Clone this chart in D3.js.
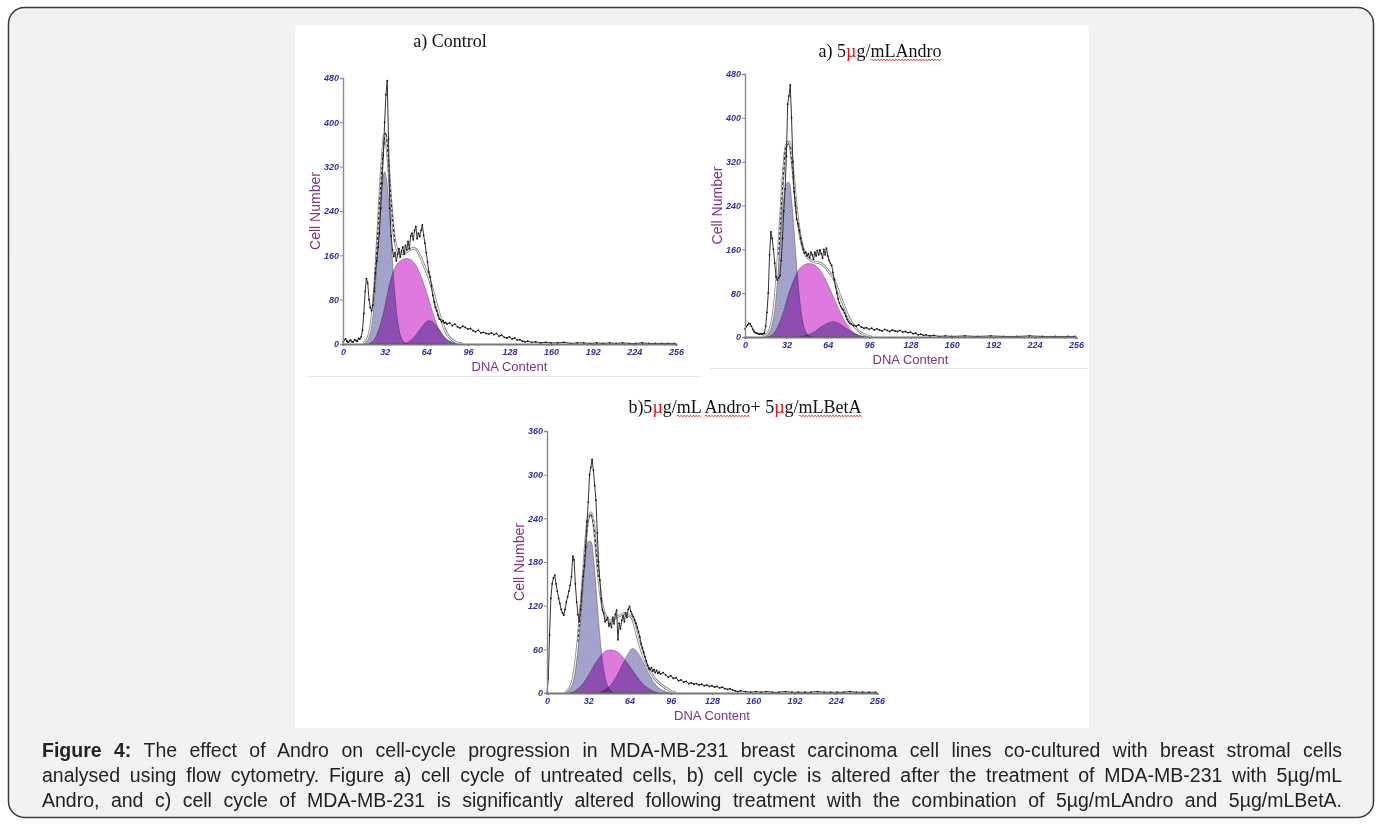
<!DOCTYPE html>
<html>
<head>
<meta charset="utf-8">
<script src="https://cdn.jsdelivr.net/npm/d3@7"></script>
<style>
  body { margin: 0; background: #fff; }
  svg { display: block; }
  .tick text { font-family: "Liberation Sans", Arial, sans-serif; font-size: 9px; font-weight: bold; font-style: italic; fill: #2f2fa8; }
</style>
</head>
<body>
<script>
// ---- data: [channel, count] ----
const yTicksA = [0, 80, 160, 240, 320, 400, 480];
const yTicksC = [0, 60, 120, 180, 240, 300, 360];
const xTicks = [0, 32, 64, 96, 128, 160, 192, 224, 256];

const titles = ["a) Control", "a) 5µg/mLAndro", "b)5µg/mL Andro+ 5µg/mLBetA"];

// a) Control
const ctrlRaw = [[0,4],[1,7],[2,9],[3,5],[4,3],[5,6],[6,7],[7,4],[8,4],[9,8],[10,6],[11,5],[12,10],[13,9],[14,13],[15,25],[16,55],[17,95],[18,118],[19,110],[20,80],[21,66],[22,60],[23,70],[24,95],[25,128],[26,150],[27,175],[28,200],[29,245],[30,290],[31,340],[32,400],[33,450],[34,475],[35,370],[36,245],[37,195],[38,170],[39,158],[40,165],[41,150],[42,162],[43,172],[44,157],[45,168],[46,175],[47,162],[48,178],[49,170],[50,185],[51,172],[52,195],[53,200],[54,188],[55,205],[56,212],[57,190],[58,200],[59,194],[60,205],[61,215],[62,196],[63,182],[64,165],[65,148],[66,130],[67,121],[68,105],[69,88],[70,76],[71,66],[72,60],[73,52],[74,45],[75,44],[76,40],[77,42],[78,38],[79,39],[80,36],[82,38],[84,33],[86,36],[88,31],[90,29],[92,32],[94,30],[96,27],[98,28],[100,24],[102,22],[104,25],[106,20],[108,21],[110,19],[112,18],[114,20],[116,17],[118,19],[120,14],[122,16],[124,12],[126,11],[128,13],[130,9],[132,11],[134,7],[136,8],[138,5],[140,4],[142,5],[145,3],[148,4],[152,2],[156,3],[160,2],[165,2],[170,3],[175,1],[180,2],[185,2],[190,1],[195,2],[200,1],[205,2],[210,1],[215,2],[220,1],[225,1],[230,2],[235,1],[240,1],[245,1],[250,1],[255,1]];
const ctrlModel = [[16,2],[18,6],[20,17],[22,44],[24,94],[26,170],[28,256],[30,330],[32,378],[34,350],[36,285],[38,225],[40,185],[42,168],[44,163],[46,163],[48,165],[50,168],[52,171],[54,173],[56,171],[58,165],[60,155],[62,143],[64,132],[66,120],[68,105],[70,88],[72,70],[74,54],[76,40],[78,28],[80,18],[84,7],[88,2],[92,0]];
const ctrlDash = [[24,98],[26,172],[28,252],[30,322],[32,372],[33,382],[34,360],[36,290],[38,228],[40,180]];
const ctrlG1 = [[16,2],[18,6],[20,17],[22,42],[24,86],[26,151],[28,226],[30,287],[32,311],[34,287],[36,226],[38,151],[40,86],[42,42],[44,17],[46,6],[48,2],[50,0]];
const ctrlS = [[20,0],[24,8],[28,30],[32,65],[36,110],[40,138],[44,150],[48,154],[52,152],[56,142],[60,122],[64,95],[68,64],[72,36],[76,17],[80,7],[84,2],[88,0]];
const ctrlG2 = [[46,0],[48,1],[52,6],[56,16],[60,29],[64,40],[66,42],[68,41],[72,32],[76,19],[80,8],[84,3],[88,0]];

// a) 5ug/mL Andro
const andRaw = [[0,15],[1,19],[2,22],[3,25],[4,24],[5,20],[6,14],[7,10],[8,8],[9,7],[10,6],[11,5],[12,6],[13,5],[14,6],[15,7],[16,20],[17,45],[18,80],[19,150],[20,192],[21,180],[22,160],[23,135],[24,110],[25,104],[26,108],[27,112],[28,140],[29,180],[30,230],[31,270],[32,330],[33,425],[34,440],[35,460],[36,400],[37,320],[38,265],[39,240],[40,215],[41,207],[42,195],[43,180],[44,170],[45,160],[46,153],[47,155],[48,148],[49,152],[50,145],[51,155],[52,150],[53,142],[54,155],[55,148],[56,158],[57,150],[58,159],[59,152],[60,144],[61,160],[62,150],[63,162],[64,148],[65,140],[66,135],[67,131],[68,118],[69,105],[70,92],[71,80],[72,70],[73,62],[74,56],[75,52],[76,49],[77,44],[78,38],[79,32],[80,28],[81,25],[82,24],[84,21],[86,20],[88,22],[90,18],[92,16],[94,17],[96,14],[98,16],[100,13],[102,15],[104,13],[106,11],[108,14],[110,12],[112,10],[114,13],[116,11],[118,10],[120,12],[122,9],[124,10],[126,8],[128,9],[130,6],[132,7],[134,4],[136,5],[138,3],[140,4],[143,2],[146,3],[150,1],[155,2],[160,1],[170,2],[180,1],[190,2],[200,1],[210,1],[220,2],[230,1],[240,1],[250,1],[255,1]];
const andModel = [[14,0],[16,3],[18,8],[20,20],[22,45],[24,90],[26,160],[28,240],[30,310],[32,350],[34,356],[36,330],[38,280],[40,230],[42,195],[44,170],[46,155],[48,146],[50,142],[52,138],[54,137],[56,136],[58,135],[60,132],[62,128],[64,122],[66,116],[68,110],[70,98],[72,85],[74,72],[76,60],[78,48],[80,37],[82,28],[84,22],[86,16],[88,11],[90,7],[94,3],[98,0]];
const andDash = [[26,150],[28,232],[30,305],[32,348],[34,352],[36,322],[38,270],[40,222]];
const andG1 = [[16,2],[18,6],[20,16],[22,38],[24,78],[26,136],[28,200],[30,254],[32,280],[34,282],[36,250],[38,192],[40,128],[42,74],[44,36],[46,15],[48,5],[50,1],[52,0]];
const andS = [[18,0],[22,6],[26,22],[30,48],[34,80],[38,105],[42,124],[46,132],[50,134],[54,131],[58,122],[62,106],[66,86],[70,64],[74,43],[78,26],[82,13],[86,5],[90,1],[92,0]];
const andG2 = [[42,0],[46,2],[50,5],[54,10],[58,17],[62,23],[66,27],[68,28],[70,27],[74,23],[78,16],[82,10],[86,5],[90,2],[94,0]];

// b) 5ug/mL Andro + 5ug/mL BetA
const comboRaw = [[0,0],[1,20],[2,80],[3,130],[4,150],[5,158],[6,162],[7,150],[8,140],[9,130],[10,123],[11,115],[12,110],[13,107],[14,115],[15,125],[16,132],[17,140],[18,148],[19,160],[20,188],[21,183],[22,150],[23,125],[24,108],[25,98],[26,115],[27,137],[28,160],[29,174],[30,200],[31,235],[32,262],[33,300],[34,310],[35,321],[36,306],[37,285],[38,265],[39,220],[40,180],[41,155],[42,130],[43,114],[44,110],[45,98],[46,100],[47,104],[48,92],[49,96],[50,90],[51,104],[52,95],[53,108],[54,114],[55,73],[56,96],[57,88],[58,100],[59,106],[60,98],[61,110],[62,104],[63,115],[64,119],[65,112],[66,108],[67,105],[68,100],[69,96],[70,90],[71,84],[72,77],[73,68],[74,62],[75,56],[76,50],[77,44],[78,38],[79,34],[80,32],[81,35],[82,30],[83,32],[84,28],[85,31],[86,27],[87,29],[88,26],[90,28],[92,25],[94,22],[96,24],[98,20],[100,21],[102,17],[104,18],[106,15],[108,16],[110,13],[112,14],[114,12],[116,13],[118,11],[120,12],[122,10],[124,11],[126,9],[128,10],[130,8],[132,9],[134,7],[136,8],[138,6],[140,5],[142,6],[144,4],[146,3],[148,2],[150,3],[154,2],[158,1],[162,2],[166,1],[170,2],[175,1],[180,1],[185,2],[190,1],[195,1],[200,1],[205,1],[210,2],[215,1],[220,1],[225,1],[230,1],[235,2],[240,1],[245,1],[250,1],[255,1]];
const comboModel = [[14,0],[16,3],[18,8],[20,18],[22,40],[24,72],[26,115],[28,160],[30,208],[32,240],[34,248],[36,235],[38,200],[40,160],[42,130],[44,112],[46,104],[48,100],[50,100],[52,102],[54,104],[56,106],[58,108],[60,109],[62,108],[64,106],[66,103],[68,92],[70,78],[72,66],[74,54],[76,45],[78,37],[80,30],[84,19],[88,12],[92,7],[96,3],[100,0]];
const comboDash = [[24,70],[26,112],[28,158],[30,205],[32,238],[34,246],[36,232],[38,198],[40,158]];
const comboG1 = [[16,2],[18,6],[20,14],[22,31],[24,60],[26,100],[28,145],[30,186],[32,208],[34,208],[36,186],[38,145],[40,100],[42,60],[44,31],[46,14],[48,6],[50,2],[52,0]];
const comboS = [[18,0],[22,3],[26,9],[30,18],[34,30],[38,42],[42,52],[46,58],[50,59],[54,57],[58,51],[62,42],[66,32],[70,22],[74,13],[78,7],[82,3],[86,0]];
const comboG2 = [[40,0],[44,3],[48,8],[52,17],[56,30],[60,44],[64,57],[66,61],[68,60],[72,51],[76,37],[80,23],[84,12],[88,5],[92,2],[96,0]];

const captionLines = [
  ["Figure 4:", " The effect of Andro on cell-cycle progression in MDA-MB-231 breast carcinoma cell lines co-cultured with breast stromal cells"],
  ["", "analysed using flow cytometry. Figure a) cell cycle of untreated cells, b) cell cycle is altered after the treatment of MDA-MB-231 with 5µg/mL"],
  ["", "Andro, and c) cell cycle of MDA-MB-231 is significantly altered following treatment with the combination of 5µg/mLAndro and 5µg/mLBetA."]
];

const W = 1380, H = 825;
const svg = d3.select("body").append("svg").attr("width", W).attr("height", H);

// outer frame
svg.append("rect").attr("x", 8.5).attr("y", 7.5).attr("width", 1365).attr("height", 810)
  .attr("rx", 16).attr("fill", "#f1f2f4").attr("stroke", "#3a3a3a").attr("stroke-width", 1.5);
// white figure area
svg.append("rect").attr("x", 295).attr("y", 25).attr("width", 794).attr("height", 703).attr("fill", "#fff");
// faint separator lines under the two top panels
svg.append("line").attr("x1", 308).attr("x2", 700).attr("y1", 376.5).attr("y2", 376.5).attr("stroke", "#e4e4e4");
svg.append("line").attr("x1", 710).attr("x2", 1088).attr("y1", 368.5).attr("y2", 368.5).attr("stroke", "#e4e4e4");

// patterns
const defs = svg.append("defs");
function hatch(id, base, ink) {
  const p = defs.append("pattern").attr("id", id).attr("width", 3).attr("height", 3)
    .attr("patternUnits", "userSpaceOnUse");
  p.append("rect").attr("width", 3).attr("height", 3).attr("fill", base);
  p.append("path").attr("d", "M0,0L3,3M3,0L0,3").attr("stroke", ink).attr("stroke-width", 0.5);
}
hatch("pG", "#aaaad2", "rgba(60,60,120,0.22)");
hatch("pS", "#e07ce0", "rgba(150,40,150,0.10)");

function wavy(g, x1, x2, y) {
  let d = "M" + x1 + "," + y;
  let up = true;
  for (let x = x1 + 1.5; x <= x2; x += 1.5) { d += "L" + x + "," + (y + (up ? -1 : 1)); up = !up; }
  g.append("path").attr("d", d).attr("fill", "none").attr("stroke", "#e03030").attr("stroke-width", 0.8);
}

// title with red µ and spell-check underlines
function title(str, cx, by, underline) {
  const t = svg.append("text").attr("x", cx).attr("y", by).attr("text-anchor", "middle")
    .style("font-family", "'Liberation Serif', 'DejaVu Serif', serif").style("font-size", "18px").attr("fill", "#111");
  str.split(/(µ)/).forEach(part => {
    if (!part) return;
    t.append("tspan").attr("fill", part === "µ" ? "#e01010" : "#111").text(part);
  });
  const node = t.node();
  underline.forEach(word => {
    const i = str.indexOf(word);
    if (i < 0) return;
    const a = node.getStartPositionOfChar(i).x;
    const b = node.getEndPositionOfChar(i + word.length - 1).x;
    wavy(svg, a, b, by + 3);
  });
}

function panel(cfg) {
  const x = d3.scaleLinear().domain([0, 256]).range([cfg.x0, cfg.x1]);
  const y = d3.scaleLinear().domain([0, cfg.yMax]).range([cfg.y0, cfg.y1]);
  const g = svg.append("g");

  const area = d3.area().x(d => x(d[0])).y0(y(0)).y1(d => y(d[1])).curve(d3.curveCatmullRom);
  const line = d3.line().x(d => x(d[0])).y(d => y(d[1])).curve(d3.curveCatmullRom);
  const rawLine = d3.line().x(d => x(d[0])).y(d => y(d[1]));

  const comp = g.append("g").style("isolation", "isolate");
  [[cfg.g1, "pG"], [cfg.s, "pS"], [cfg.g2, "pG"]].forEach(([data, pat]) => {
    comp.append("path").datum(data).attr("d", area).attr("fill", "url(#" + pat + ")")
      .attr("stroke", "#555").attr("stroke-width", 0.5).style("mix-blend-mode", "multiply");
  });

  // model fit: light double line
  g.append("path").datum(cfg.model).attr("d", line).attr("fill", "none").attr("stroke", "#888").attr("stroke-width", 2.6);
  g.append("path").datum(cfg.model).attr("d", line).attr("fill", "none").attr("stroke", "#fff").attr("stroke-width", 1);
  g.append("path").datum(cfg.dash).attr("d", line).attr("fill", "none").attr("stroke", "#222")
    .attr("stroke-width", 1).attr("stroke-dasharray", "3,2");

  // raw histogram
  g.append("path").datum(cfg.raw).attr("d", rawLine).attr("fill", "none").attr("stroke", "#333").attr("stroke-width", 1);
  g.selectAll("circle.r").data(cfg.raw).enter().append("circle").attr("class", "r")
    .attr("cx", d => x(d[0])).attr("cy", d => y(d[1])).attr("r", 0.9).attr("fill", "#111");

  // axes
  const ya = g.append("g").attr("transform", "translate(" + cfg.x0 + ",0)")
    .call(d3.axisLeft(y).tickValues(cfg.yTicks).tickSize(3).tickPadding(1));
  ya.select(".domain").attr("stroke", "#8a8a8a").attr("stroke-width", 1.4);
  ya.selectAll(".tick line").attr("stroke", "#8a8a8a");
  const xa = g.append("g").attr("transform", "translate(0," + cfg.y0 + ")")
    .call(d3.axisBottom(x).tickValues(xTicks).tickSize(2).tickPadding(3));
  xa.select(".domain").attr("stroke", "#777").attr("stroke-width", 2);
  xa.selectAll(".tick line").attr("stroke", "#777");

  g.append("text").attr("x", (cfg.x0 + cfg.x1) / 2).attr("y", cfg.y0 + 27).attr("text-anchor", "middle")
    .style("font-family", "'Liberation Sans', Arial, sans-serif").style("font-size", "13px").attr("fill", "#823480")
    .text("DNA Content");
  g.append("text").attr("transform", "translate(" + (cfg.x0 - 23) + "," + ((cfg.y0 + cfg.y1) / 2) + ") rotate(-90)")
    .attr("text-anchor", "middle")
    .style("font-family", "'Liberation Sans', Arial, sans-serif").style("font-size", "14px").attr("fill", "#823480")
    .text("Cell Number");
}

panel({ x0: 343, x1: 676, y0: 344, y1: 78, yMax: 480, yTicks: yTicksA,
  raw: ctrlRaw, model: ctrlModel, dash: ctrlDash, g1: ctrlG1, s: ctrlS, g2: ctrlG2 });
panel({ x0: 745, x1: 1076, y0: 337, y1: 74, yMax: 480, yTicks: yTicksA,
  raw: andRaw, model: andModel, dash: andDash, g1: andG1, s: andS, g2: andG2 });
panel({ x0: 547, x1: 877, y0: 693, y1: 431, yMax: 360, yTicks: yTicksC,
  raw: comboRaw, model: comboModel, dash: comboDash, g1: comboG1, s: comboS, g2: comboG2 });

title(titles[0], 450, 47, []);
title(titles[1], 880, 57, ["mLAndro"]);
title(titles[2], 745, 413, ["mL", "Andro", "mLBetA"]);

// caption, justified line by line
captionLines.forEach((ln, i) => {
  const t = svg.append("text").attr("x", 42).attr("y", 757 + i * 25)
    .style("font-family", "'Liberation Sans', Arial, sans-serif").style("font-size", "19.5px").attr("fill", "#222");
  if (ln[0]) t.append("tspan").style("font-weight", "bold").text(ln[0]);
  t.append("tspan").text(ln[1]);
  const len = t.node().getComputedTextLength();
  const spaces = (ln[0] + ln[1]).split(" ").length - 1;
  t.attr("word-spacing", (1300 - len) / spaces);
});
</script>
</body>
</html>
